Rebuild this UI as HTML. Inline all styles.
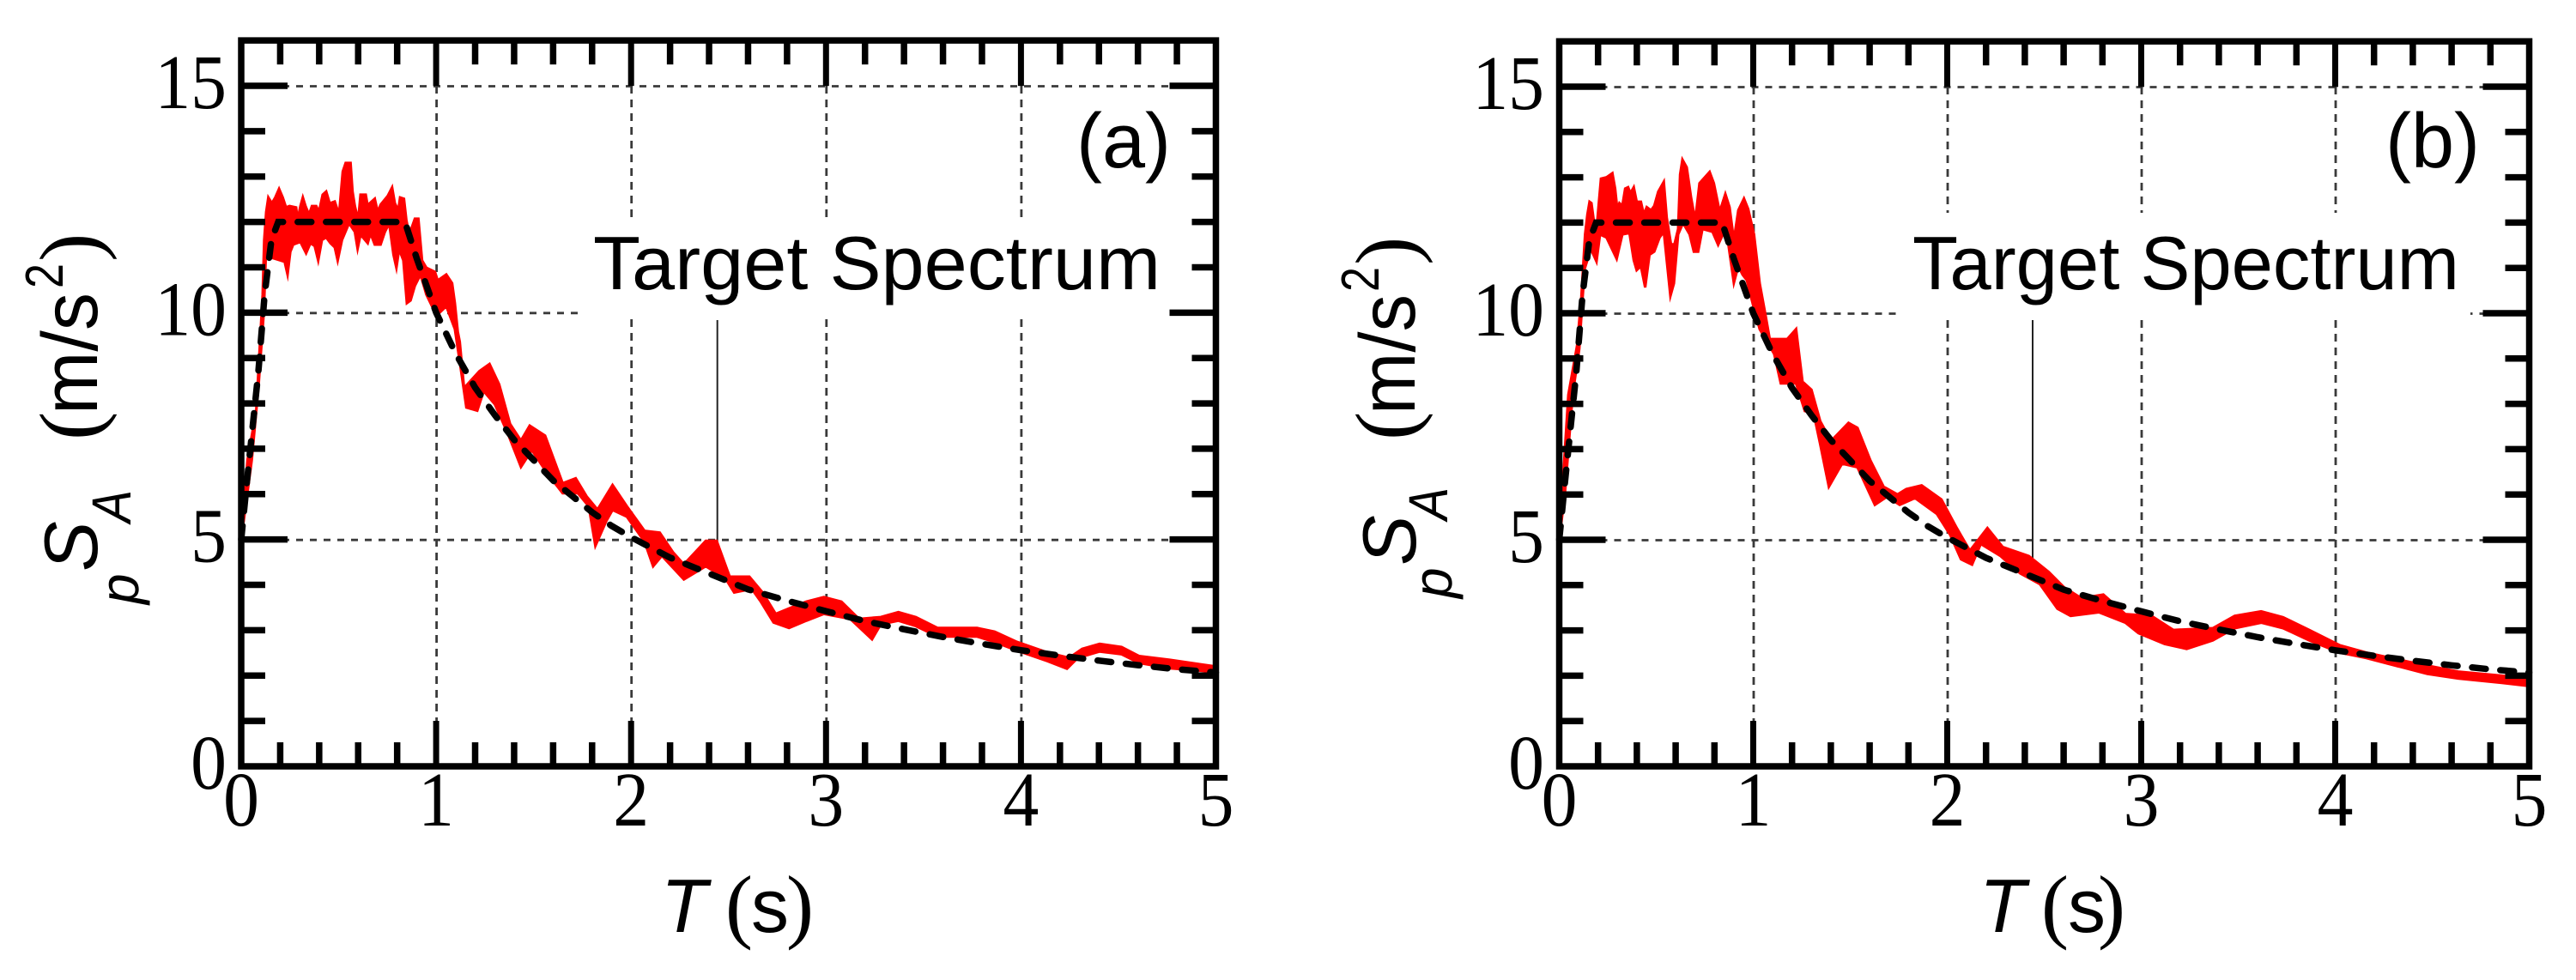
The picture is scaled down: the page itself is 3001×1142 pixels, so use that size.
<!DOCTYPE html>
<html lang="en">
<head>
<meta charset="utf-8">
<title>Spectra versus target spectrum, panels (a) and (b)</title>
<style>
html,body{margin:0;padding:0;background:#fff;width:3001px;height:1142px;overflow:hidden}
svg{display:block}
.serif{font-family:"Liberation Serif",serif}
.sans{font-family:"Liberation Sans",sans-serif}
text{fill:#000}
</style>
</head>
<body>
<svg id="chart" width="3001" height="1142" viewBox="0 0 3001 1142" xmlns="http://www.w3.org/2000/svg">
<rect width="3001" height="1142" fill="#fff"/>
<g id="panel-a"></g>
<g id="panel-b"></g>

<g>
<text class="sans" x="691" y="337" font-size="88" textLength="661" lengthAdjust="spacingAndGlyphs">Target Spectrum</text>
<text class="sans" x="1254" y="195" font-size="90">(a)</text>
<g>
<text class="sans" x="770" y="1086" font-size="88" font-style="italic">T</text>
<text class="serif" x="845" y="1087" font-size="96">(</text>
<text class="sans" x="875" y="1086" font-size="88">s</text>
<text class="serif" x="916" y="1087" font-size="96">)</text>
</g>
<g>
<text class="sans" transform="translate(161,704) rotate(-90)" font-size="64" font-style="italic">p</text>
<text class="sans" transform="translate(113,666) rotate(-90)" font-size="88" font-style="italic">S</text>
<text class="sans" transform="translate(152,609) rotate(-90)" font-size="64" font-style="italic" textLength="38" lengthAdjust="spacingAndGlyphs">A</text>
<text class="serif" transform="translate(115,513) rotate(-90)" font-size="100">(</text>
<text class="sans" transform="translate(113,483) rotate(-90)" font-size="92" textLength="142" lengthAdjust="spacingAndGlyphs">m/s</text>
<text class="sans" transform="translate(73,336) rotate(-90)" font-size="62" textLength="29" lengthAdjust="spacingAndGlyphs">2</text>
<text class="serif" transform="translate(115,305) rotate(-90)" font-size="100">)</text>
</g>
</g>

<g>
<text class="sans" x="2228" y="337" font-size="88" textLength="637" lengthAdjust="spacingAndGlyphs">Target Spectrum</text>
<text class="sans" x="2779" y="195" font-size="90">(b)</text>
<g>
<text class="sans" x="2306" y="1086" font-size="88" font-style="italic">T</text>
<text class="serif" x="2378" y="1087" font-size="96">(</text>
<text class="sans" x="2409" y="1086" font-size="88">s</text>
<text class="serif" x="2444" y="1087" font-size="96">)</text>
</g>
<g>
<text class="sans" transform="translate(1691,697) rotate(-90)" font-size="64" font-style="italic">p</text>
<text class="sans" transform="translate(1649,659) rotate(-90)" font-size="88" font-style="italic">S</text>
<text class="sans" transform="translate(1686,606) rotate(-90)" font-size="64" font-style="italic" textLength="38" lengthAdjust="spacingAndGlyphs">A</text>
<text class="serif" transform="translate(1648,513) rotate(-90)" font-size="100">(</text>
<text class="sans" transform="translate(1648,483) rotate(-90)" font-size="92" textLength="140" lengthAdjust="spacingAndGlyphs">m/s</text>
<text class="sans" transform="translate(1606,340) rotate(-90)" font-size="62" textLength="29" lengthAdjust="spacingAndGlyphs">2</text>
<text class="serif" transform="translate(1648,309) rotate(-90)" font-size="100">)</text>
</g>
</g>
</svg>

<script>
const xTickLabels = [0, 1, 2, 3, 4, 5];
const yTickLabels = [0, 5, 10, 15];
const xMinorStep = 0.2;
const yMinorStep = 1;

const targetT = [0,0.03,0.088,0.12,0.155,0.19,0.84,0.9,1,1.1,1.2,1.3,1.4,1.5,1.6,1.7,1.8,1.9,2,2.2,2.4,2.6,2.8,3,3.2,3.4,3.6,3.8,4,4.2,4.4,4.6,4.8,5];
const targetV = [5,6.3,8.7,10.4,11.6,12,12,11.2,10,9.1,8.35,7.75,7.2,6.75,6.3,5.95,5.6,5.3,5.05,4.6,4.25,3.9,3.65,3.42,3.2,3.02,2.85,2.7,2.56,2.44,2.33,2.23,2.14,2.07];

const aUpperT = [0,0.032,0.077,0.11,0.118,0.128,0.139,0.157,0.175,0.194,0.213,0.23,0.248,0.282,0.289,0.304,0.316,0.33,0.348,0.363,0.385,0.399,0.418,0.436,0.454,0.48,0.502,0.514,0.521,0.536,0.561,0.571,0.583,0.6,0.612,0.639,0.649,0.659,0.685,0.7,0.715,0.751,0.774,0.788,0.806,0.815,0.835,0.847,0.862,0.891,0.909,0.928,0.95,0.994,1.008,1.052,1.082,1.096,1.111,1.121,1.143,1.222,1.274,1.323,1.379,1.435,1.48,1.559,1.649,1.716,1.772,1.828,1.905,1.979,2.069,2.147,2.215,2.271,2.383,2.439,2.506,2.607,2.675,2.742,2.81,2.899,2.989,3.079,3.169,3.281,3.371,3.461,3.573,3.775,3.865,3.98,4.135,4.247,4.314,4.404,4.516,4.606,4.763,5];
const aUpperV = [5,6.75,7.84,10.4,11.6,12.22,12.54,12.41,12.54,12.73,12.54,12.32,12.35,12.32,12.04,12.35,12.54,12.35,12.16,12.35,12.35,12.22,12.6,12.67,12.41,12.45,12.16,12.76,13.11,13.3,13.3,12.67,12.35,12.04,12.6,12.6,12.35,12.41,12.51,12.22,12.38,12.57,12.76,12.41,12.26,12.54,12.51,12.04,11.72,12.07,12.07,11.15,10.99,10.9,10.71,10.84,10.65,10.21,9.58,9.36,8.34,8.71,8.87,8.42,7.55,7.18,7.51,7.29,6.24,6.35,5.95,5.66,6.2,5.73,5.19,5.15,4.72,4.45,4.97,4.97,4.18,4.18,3.83,3.36,3.48,3.63,3.73,3.63,3.25,3.29,3.4,3.29,3.05,3.05,2.97,2.74,2.51,2.39,2.59,2.7,2.63,2.43,2.35,2.2];
const aLowerT = [0,0.054,0.088,0.116,0.128,0.157,0.201,0.223,0.238,0.252,0.267,0.304,0.333,0.355,0.377,0.395,0.414,0.436,0.458,0.48,0.495,0.517,0.553,0.583,0.597,0.612,0.649,0.663,0.685,0.715,0.737,0.759,0.781,0.796,0.81,0.832,0.85,0.869,0.891,0.92,0.95,0.979,1.008,1.052,1.096,1.121,1.155,1.211,1.244,1.301,1.368,1.435,1.491,1.57,1.649,1.727,1.783,1.817,1.873,1.905,1.979,2.069,2.113,2.158,2.271,2.383,2.484,2.529,2.619,2.664,2.731,2.81,2.899,2.989,3.124,3.236,3.281,3.371,3.461,3.573,3.775,3.865,3.98,4.135,4.236,4.292,4.404,4.516,4.606,4.763,5];
const aLowerV = [5,6.75,8.34,10,11.47,11.21,11.15,11.12,10.84,11.34,11.5,11.56,11.31,11.53,11.47,11.15,11.6,11.66,11.53,11.44,11.15,11.6,11.97,11.78,11.41,11.72,11.53,11.75,11.5,11.5,11.78,11.97,11.28,10.99,11.4,11.15,10.21,10.27,10.59,10.84,10.4,10.14,9.96,10.14,9.64,8.92,7.91,7.84,8.27,7.98,7.33,6.6,6.97,6.46,6.02,6.02,5.73,4.86,5.41,5.65,5.5,4.95,4.41,4.64,4.12,4.41,4.14,3.83,3.91,3.64,3.17,3.05,3.21,3.36,3.25,2.8,3.13,3.21,3.09,2.86,2.86,2.74,2.55,2.32,2.15,2.39,2.53,2.47,2.28,2.16,2.08];

const bUpperT = [0,0.047,0.092,0.114,0.133,0.145,0.156,0.166,0.178,0.195,0.204,0.215,0.244,0.274,0.288,0.299,0.31,0.325,0.34,0.355,0.367,0.384,0.399,0.421,0.436,0.451,0.473,0.49,0.51,0.539,0.554,0.576,0.594,0.613,0.623,0.635,0.657,0.679,0.701,0.723,0.775,0.797,0.827,0.856,0.878,0.9,0.923,0.952,0.974,1.004,1.033,1.063,1.085,1.175,1.221,1.254,1.3,1.345,1.401,1.491,1.537,1.604,1.672,1.744,1.789,1.868,1.97,2.049,2.117,2.207,2.286,2.421,2.523,2.602,2.692,2.805,2.918,3.053,3.166,3.369,3.482,3.618,3.731,3.866,4.024,4.16,4.408,4.633,4.859,5];
const bUpperV = [5,8.2,9.29,10.37,11.74,12.18,12.46,12.43,12.05,11.99,12.43,12.97,13,13.09,12.75,12.3,12.43,12.37,12.75,12.78,12.65,12.78,12.46,12.46,12.18,12.34,12.27,12.37,12.68,12.9,12.11,11.52,11.52,11.86,13.06,13.39,13.22,12.56,12.05,12.87,13.12,12.87,12.24,12.63,12.34,11.61,12.27,12.53,12.3,11.74,10.66,9.97,9.43,9.43,9.65,8.49,8.31,7.62,7.18,7.58,7.47,6.75,6.17,6,6.12,6.2,5.89,5.26,4.76,5.26,4.84,4.64,4.29,3.95,3.71,3.79,3.36,3.32,3.01,3.05,3.32,3.42,3.29,3.01,2.67,2.51,2.28,2.09,2,1.93];
const bLowerT = [0,0.029,0.069,0.103,0.118,0.131,0.163,0.192,0.21,0.244,0.296,0.325,0.362,0.384,0.399,0.421,0.443,0.465,0.49,0.517,0.539,0.554,0.573,0.591,0.613,0.638,0.672,0.694,0.716,0.738,0.79,0.819,0.856,0.871,0.9,0.923,0.945,0.967,1.004,1.033,1.108,1.142,1.221,1.266,1.311,1.345,1.39,1.458,1.537,1.627,1.69,1.755,1.834,1.947,2.015,2.071,2.128,2.173,2.275,2.376,2.478,2.568,2.636,2.782,2.918,2.986,3.121,3.234,3.369,3.482,3.618,3.731,3.866,4.024,4.16,4.475,4.633,4.859,5];
const bLowerV = [5,6.02,8.2,9.21,10.2,10.98,11.42,11.14,11.74,11.67,11.2,11.74,11.77,11.17,10.95,11.04,10.57,11.29,11.36,11.67,11.8,11.17,10.38,10.66,11.74,11.99,11.74,11.36,11.36,11.86,11.8,11.51,11.86,11.55,10.67,11.04,10.85,10.73,10.1,9.65,9.1,8.45,8.45,7.84,7.8,7.11,6.17,6.68,6.6,5.77,5.95,5.77,5.92,5.57,5.11,4.57,4.45,4.91,4.64,4.26,4.02,3.48,3.32,3.4,3.17,2.94,2.7,2.59,2.78,3.05,3.17,3.05,2.78,2.51,2.39,2.04,1.94,1.84,1.77];

const NS = 'http://www.w3.org/2000/svg';

function make(parent, tag, attrs) {
  const el = document.createElementNS(NS, tag);
  for (const k in attrs) el.setAttribute(k, attrs[k]);
  parent.appendChild(el);
  return el;
}

function drawPanel(g, p, upT, upV, loT, loV, suffix) {
  const sx = t => p.x0 + t * (p.x5 - p.x0) / 5;
  const sy = v => p.y0 - v * (p.y0 - p.y15) / 15;
  const yTop = p.y0 - 16 * (p.y0 - p.y15) / 15;

  // dotted grid
  xTickLabels.forEach(t => {
    if (t === 0 || t === 5) return;
    const el = make(g, 'line', {x1: sx(t) + 0.5, x2: sx(t) + 0.5, y1: sy(15), y2: p.y0, stroke: '#3a3a3a', 'stroke-width': 2.8, 'stroke-dasharray': '9 7'});
    
    
  });
  yTickLabels.forEach(v => {
    if (v === 0) return;
    const el = make(g, 'line', {x1: p.x0, x2: p.x5, y1: sy(v) + 0.5, y2: sy(v) + 0.5, stroke: '#3a3a3a', 'stroke-width': 2.8, 'stroke-dasharray': '8 8'});
    
    
  });

  // white box under annotation
  const box = make(g, 'rect', {x: p.box[0], y: p.box[1], width: p.box[2], height: p.box[3], fill: '#fff'});
  
  

  const leader = make(g, 'line', {x1: p.leaderX, x2: p.leaderX, y1: 373, y2: p.leaderEnd, stroke: '#222', 'stroke-width': 2});
  
  

  // response envelope
  const pts = [];
  upT.forEach((t, i) => pts.push(sx(t).toFixed(1) + ',' + sy(upV[i]).toFixed(1)));
  for (let i = loT.length - 1; i >= 0; i--) pts.push(sx(loT[i]).toFixed(1) + ',' + sy(loV[i]).toFixed(1));
  const band = make(g, 'polygon', {points: pts.join(' '), fill: '#ff0000', stroke: '#ff0000', 'stroke-width': 3, 'stroke-linejoin': 'miter', 'stroke-miterlimit': 6});
  
  

  // target
  const tp = targetT.map((t, i) => sx(t).toFixed(1) + ',' + sy(targetV[i]).toFixed(1)).join(' ');
  const target = make(g, 'polyline', {points: tp, fill: 'none', stroke: '#000', 'stroke-width': 7.5, 'stroke-dasharray': '16 17', 'stroke-linecap': 'round'});
  
  

  // ticks
  const nx = Math.round(5 / xMinorStep);
  for (let i = 0; i <= nx; i++) {
    const t = i * xMinorStep;
    if (i === 0 || i === nx) continue;
    const major = i % 5 === 0;
    const len = major ? 53 : 28;
    [[p.y0, p.y0 - len], [yTop, yTop + len]].forEach(([a, b]) => {
      const el = make(g, 'line', {x1: sx(t), x2: sx(t), y1: a, y2: b, stroke: '#000', 'stroke-width': major ? 7 : 7.5});
      
      
    });
  }
  for (let v = yMinorStep; v < 16; v += yMinorStep) {
    const major = v % 5 === 0;
    const len = major ? 54 : 28;
    [[p.x0, p.x0 + len], [p.x5, p.x5 - len]].forEach(([a, b]) => {
      const el = make(g, 'line', {x1: a, x2: b, y1: sy(v), y2: sy(v), stroke: '#000', 'stroke-width': 7.5});
      
      
    });
  }

  // frame
  const frame = make(g, 'rect', {x: p.x0, y: yTop, width: p.x5 - p.x0, height: p.y0 - yTop, fill: 'none', stroke: '#000', 'stroke-width': 7.5});
  
  

  // tick labels
  xTickLabels.forEach(t => {
    const el = make(g, 'text', {transform: 'translate(' + sx(t) + ',962) scale(.93,1)', 'font-size': 90, 'text-anchor': 'middle', class: 'serif'});
    el.textContent = t;
    
    
  });
  yTickLabels.forEach(v => {
    const el = make(g, 'text', {transform: 'translate(' + p.labelX + ',' + (sy(v) + 26) + ') scale(.93,1)', 'font-size': 90, 'text-anchor': 'end', class: 'serif'});
    el.textContent = v;
    
    
  });
}

drawPanel(document.getElementById('panel-a'),
  {x0: 281, x5: 1416.5, y0: 893, y15: 100, box: [678, 253, 690, 119], leaderX: 835.7, leaderEnd: 652, labelX: 264},
  aUpperT, aUpperV, aLowerT, aLowerV, 'a');
drawPanel(document.getElementById('panel-b'),
  {x0: 1816.5, x5: 2946.5, y0: 893, y15: 101, box: [2212, 248, 666, 120], leaderX: 2368, leaderEnd: 664, labelX: 1799},
  bUpperT, bUpperV, bLowerT, bLowerV, 'b');
</script>
</body>
</html>
